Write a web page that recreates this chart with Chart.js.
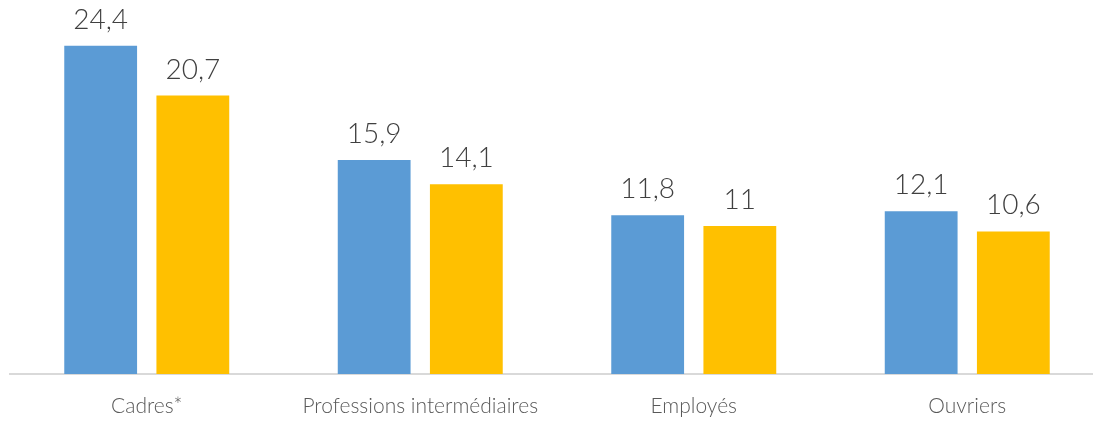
<!DOCTYPE html>
<html>
<head>
<meta charset="utf-8">
<script src="https://cdn.jsdelivr.net/npm/chart.js@4/dist/chart.umd.min.js"></script>
<style>
  html, body { margin: 0; padding: 0; background: #fff; overflow: hidden; }
  #wrap { position: relative; width: 1093px; height: 421px; overflow: hidden; }
</style>
</head>
<body>
<!-- the plot runs a little past the right edge, so the canvas is wider than the frame -->
<div id="wrap"><canvas id="chart" width="1104" height="421"></canvas></div>
<script>
"use strict";
const categories = ["Cadres*", "Professions intermédiaires", "Employés", "Ouvriers"];
const seriesBlue = [24.4, 15.9, 11.8, 12.1];
const seriesYellow = [20.7, 14.1, 11, 10.6];

const fontFamily = '"Lato", "DejaVu Sans", sans-serif';

// writes each bar's value above it, with a decimal comma
const valueLabels = {
    id: 'valueLabels',
    afterDatasetsDraw(chart) {
        const ctx = chart.ctx;
        ctx.save();
        ctx.font = '300 28px ' + fontFamily;
        ctx.fillStyle = '#404040';
        ctx.textAlign = 'center';
        ctx.textBaseline = 'alphabetic';
        chart.data.datasets.forEach(function (ds, i) {
            chart.getDatasetMeta(i).data.forEach(function (bar, j) {
                let txt = String(ds.data[j]).replace('.', ',');
                ctx.fillText(txt, bar.x, bar.y - 17);
            });
        });
        ctx.restore();
    }
};

let ctxChart = document.getElementById('chart');
let chart = new Chart(ctxChart, {
    type: 'bar',
    data: {
        labels: categories,
        datasets: [{
            data: seriesBlue,
            backgroundColor: '#5B9BD5',
            categoryPercentage: 0.674,
            barPercentage: 0.79
        }, {
            data: seriesYellow,
            backgroundColor: '#FFC000',
            categoryPercentage: 0.674,
            barPercentage: 0.79
        }]
    },
    options: {
        responsive: false,
        animation: false,
        layout: { padding: { left: 10, right: 0, top: 0, bottom: 0 } },
        plugins: { legend: { display: false }, tooltip: { enabled: false } },
        scales: {
            x: {
                grid: { display: false, drawTicks: false },
                border: { display: true, color: '#d9d9d9', width: 2 },
                ticks: {
                    color: '#595959',
                    padding: 20,
                    font: { family: fontFamily, size: 21, weight: 300 }
                },
                afterFit: function (scale) { scale.height = 47; }
            },
            y: {
                display: false,
                min: 0,
                max: 27.8
            }
        }
    },
    plugins: [valueLabels]
});
</script>
</body>
</html>
